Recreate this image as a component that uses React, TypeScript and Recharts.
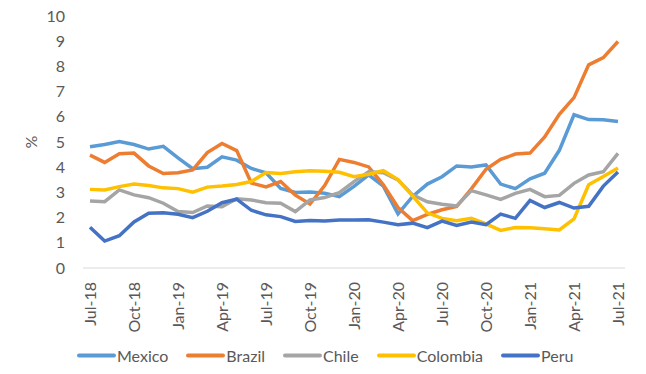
import { CartesianGrid, Legend, Line, LineChart, XAxis, YAxis } from "recharts";

// Monthly CPI inflation, y/y %, Jul-18 .. Jul-21
const months = [
  "Jul-18", "Aug-18", "Sep-18", "Oct-18", "Nov-18", "Dec-18",
  "Jan-19", "Feb-19", "Mar-19", "Apr-19", "May-19", "Jun-19",
  "Jul-19", "Aug-19", "Sep-19", "Oct-19", "Nov-19", "Dec-19",
  "Jan-20", "Feb-20", "Mar-20", "Apr-20", "May-20", "Jun-20",
  "Jul-20", "Aug-20", "Sep-20", "Oct-20", "Nov-20", "Dec-20",
  "Jan-21", "Feb-21", "Mar-21", "Apr-21", "May-21", "Jun-21",
  "Jul-21",
];

const mexico = [
  4.81, 4.9, 5.02, 4.9, 4.72, 4.83, 4.37, 3.94, 4.0, 4.41, 4.28, 3.95,
  3.78, 3.16, 3.0, 3.02, 2.97, 2.83, 3.24, 3.7, 3.25, 2.15, 2.84, 3.33,
  3.62, 4.05, 4.01, 4.09, 3.33, 3.15, 3.54, 3.76, 4.67, 6.08, 5.89, 5.88,
  5.81,
];

const brazil = [
  4.48, 4.19, 4.53, 4.56, 4.05, 3.75, 3.78, 3.89, 4.58, 4.94, 4.66, 3.37,
  3.22, 3.43, 2.89, 2.54, 3.27, 4.31, 4.19, 4.01, 3.3, 2.4, 1.88, 2.13,
  2.31, 2.44, 3.14, 3.92, 4.31, 4.52, 4.56, 5.2, 6.1, 6.76, 8.06, 8.35,
  8.99,
];

const chile = [
  2.66, 2.63, 3.1, 2.9, 2.79, 2.57, 2.24, 2.2, 2.46, 2.43, 2.75, 2.7,
  2.59, 2.57, 2.24, 2.7, 2.8, 2.99, 3.43, 3.82, 3.78, 3.49, 2.9, 2.63,
  2.53, 2.46, 3.07, 2.9, 2.72, 2.96, 3.12, 2.83, 2.88, 3.36, 3.69, 3.82,
  4.55,
];

const colombia = [
  3.12, 3.1, 3.23, 3.33, 3.27, 3.18, 3.15, 3.01, 3.21, 3.25, 3.31, 3.43,
  3.79, 3.75, 3.82, 3.86, 3.84, 3.8, 3.62, 3.72, 3.86, 3.51, 2.85, 2.19,
  1.97, 1.88, 1.97, 1.75, 1.49, 1.61, 1.6, 1.56, 1.51, 1.95, 3.3, 3.63,
  3.97,
];

const peru = [
  1.62, 1.07, 1.28, 1.83, 2.17, 2.19, 2.13, 2.0, 2.25, 2.59, 2.73, 2.29,
  2.11, 2.04, 1.85, 1.88, 1.87, 1.9, 1.9, 1.91, 1.82, 1.72, 1.78, 1.6,
  1.86, 1.69, 1.82, 1.72, 2.14, 1.97, 2.68, 2.4, 2.6, 2.38, 2.45, 3.25,
  3.81,
];

const yTicks = [0, 1, 2, 3, 4, 5, 6, 7, 8, 9, 10];

const series = [
  { key: "Mexico", color: "#5B9BD5" },
  { key: "Brazil", color: "#ED7D31" },
  { key: "Chile", color: "#A5A5A5" },
  { key: "Colombia", color: "#FFC000" },
  { key: "Peru", color: "#4472C4" },
];

const data = months.map((month, i) => ({
  month,
  Mexico: mexico[i],
  Brazil: brazil[i],
  Chile: chile[i],
  Colombia: colombia[i],
  Peru: peru[i],
}));

const FONT = "Lato, 'Open Sans', sans-serif";
const TEXT = "#595959";

function MonthTick({ x, y, payload }: any) {
  const ty = y + 12;
  return (
    <text
      x={x}
      y={ty}
      transform={`rotate(-90, ${x}, ${ty})`}
      textAnchor="end"
      dy="0.35em"
      fontSize={16}
      fontFamily={FONT}
      fill={TEXT}
    >
      {payload.value}
    </text>
  );
}

function PercentLabel({ viewBox }: any) {
  const cx = 31;
  const cy = viewBox.y + viewBox.height / 2;
  return (
    <text
      x={cx}
      y={cy}
      transform={`rotate(-90, ${cx}, ${cy})`}
      textAnchor="middle"
      dy="0.35em"
      fontSize={16}
      fontFamily={FONT}
      fill={TEXT}
    >
      %
    </text>
  );
}

function LegendBox() {
  return (
    <div style={{ display: "flex", alignItems: "center", height: 20 }}>
      {series.map((s) => (
        <div
          key={s.key}
          style={{ display: "flex", alignItems: "center", marginRight: 18 }}
        >
          <svg width={39} height={5} style={{ marginRight: 1 }}>
            <line x1={2} y1={2.5} x2={37} y2={2.5} stroke={s.color} strokeWidth={4} strokeLinecap="round" />
          </svg>
          <span style={{ fontFamily: FONT, fontSize: 16, color: TEXT }}>{s.key}</span>
        </div>
      ))}
    </div>
  );
}

export default function App() {
  return (
    <div style={{ position: "absolute", left: 0, top: 0, background: "#fff" }}>
      <LineChart
        width={646}
        height={374}
        data={data}
        margin={{ top: 16, right: 21, left: 0, bottom: 26 }}
      >
        <CartesianGrid horizontal={false} vertical={false} />
        <XAxis
          dataKey="month"
          interval={2}
          height={60}
          padding={{ left: 7, right: 7 }}
          tickLine={false}
          tickSize={0}
          stroke="#d9d9d9"
          tick={<MonthTick />}
        />
        <YAxis
          width={83}
          domain={[0, 10]}
          ticks={yTicks}
          axisLine={false}
          tickLine={false}
          tickSize={0}
          tickMargin={18}
          tick={{ fontSize: 16, fontFamily: FONT, fill: TEXT }}
          label={<PercentLabel />}
        />
        <Legend
          verticalAlign="bottom"
          content={<LegendBox />}
          wrapperStyle={{ left: 77, top: 345, width: "auto", height: 20 }}
        />
        {series.map((s) => (
          <Line
            key={s.key}
            type="linear"
            dataKey={s.key}
            stroke={s.color}
            strokeWidth={3.5}
            dot={false}
            activeDot={false}
            isAnimationActive={false}
          />
        ))}
      </LineChart>
    </div>
  );
}
